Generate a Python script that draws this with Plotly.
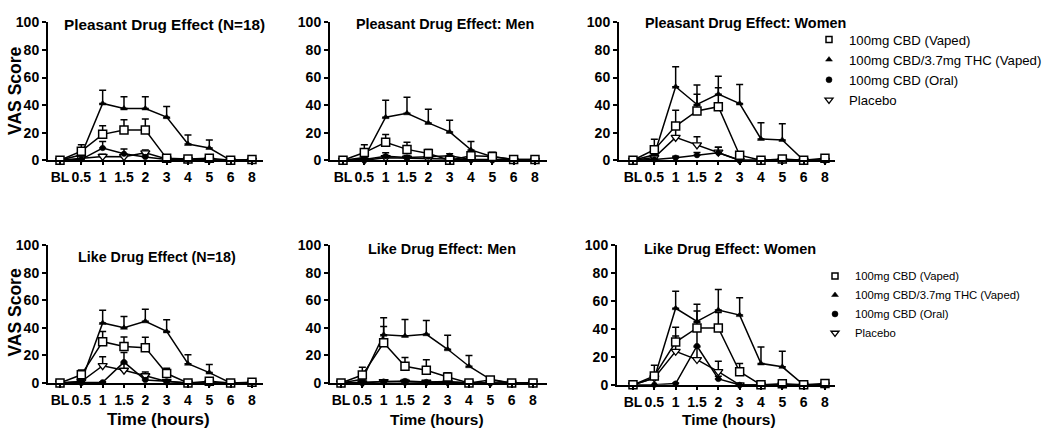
import plotly.graph_objects as go

W, H = 1050, 442

time_labels = ["BL", "0.5", "1", "1.5", "2", "3", "4", "5", "6", "8"]
series_names = ["100mg CBD (Vaped)", "100mg CBD/3.7mg THC (Vaped)", "100mg CBD (Oral)", "Placebo"]
y_ticks = [0, 20, 40, 60, 80, 100]

# ---- Pleasant Drug Effect (N=18)
pl_all_cbd = [0, 6.6, 18.8, 21.9, 21.9, 1.4, 1.0, 1.4, 0, 0.5]
pl_all_cbd_sem = [0, 4.7, 6.2, 7.5, 8.1, 1.0, 0.5, 0.8, 0, 0.4]
pl_all_thc = [0, 4, 41.2, 37.6, 37.6, 31.3, 11.8, 8.9, 0, 0]
pl_all_thc_sem = [0, 2, 9.6, 8.5, 8.5, 7.7, 6.6, 5.9, 0, 0]
pl_all_oral = [0, 0.7, 8.9, 4.7, 2.4, 0.5, 0, 0, 0, 0]
pl_all_oral_sem = [0, 0.5, 4.7, 3.5, 1.5, 0.4, 0, 0, 0, 0]
pl_all_plac = [0, 1.5, 2.8, 2.6, 5.4, 1, 0.5, 0.5, 0, 0]
pl_all_plac_sem = [0, 1, 1.5, 1.5, 2, 0.8, 0.4, 0.4, 0, 0]

# ---- Pleasant Drug Effect: Men
pl_men_cbd = [0, 5.6, 13.1, 7.9, 4.9, 0, 3.3, 2.8, 0.5, 0.5]
pl_men_cbd_sem = [0, 5.6, 5.6, 5.2, 3, 0, 2, 2, 0.3, 0.3]
pl_men_thc = [0, 2, 31.3, 34.1, 27.1, 20.6, 7.5, 2.6, 0.5, 0.5]
pl_men_thc_sem = [0, 1.5, 12.2, 11.7, 10, 8.4, 6.1, 3.2, 0, 0]
pl_men_oral = [0, 0.5, 3, 2, 2.6, 3.3, 0.5, 0, 0, 0]
pl_men_oral_sem = [0, 0.4, 2.4, 1.5, 1.5, 1.5, 0.4, 0, 0, 0]
pl_men_plac = [0, 0, 1.9, 1.5, 1, 0.5, 0.5, 0.5, 0, 0]
pl_men_plac_sem = [0, 0, 1.5, 1, 1, 0.4, 0, 0, 0, 0]

# ---- Pleasant Drug Effect: Women
pl_wom_cbd = [0, 7.7, 24.8, 35.8, 38.9, 3.7, 0, 0.9, 0, 1.4]
pl_wom_cbd_sem = [0, 7.5, 11.5, 12.2, 13.8, 2, 0, 0.6, 0, 0.8]
pl_wom_thc = [0, 4, 53.4, 40.5, 48, 41.2, 15.5, 14.8, 0, 0]
pl_wom_thc_sem = [0, 3, 14.5, 14.1, 12.9, 13.8, 11.7, 11.7, 0, 0]
pl_wom_oral = [0, 0.5, 1.9, 3.7, 5.4, 0, 0, 0, 0, 0]
pl_wom_oral_sem = [0, 0.4, 1, 2, 4, 0, 0, 0, 0, 0]
pl_wom_plac = [0, 2, 16.6, 11.2, 5.9, 0, 0, 0, 0, 0]
pl_wom_plac_sem = [0, 1.5, 7.4, 5.9, 3.5, 0, 0, 0, 0, 0]

# ---- Like Drug Effect (N=18)
lk_all_cbd = [0, 5.9, 29.9, 26.4, 25.6, 6.8, 0, 1.2, 0, 0.5]
lk_all_cbd_sem = [0, 3.5, 7.5, 7, 7.6, 3.8, 0, 0.8, 0, 0.3]
lk_all_thc = [0, 1, 43.5, 40, 44.7, 37.4, 13.9, 7.5, 0, 0]
lk_all_thc_sem = [0, 1, 9.2, 8.2, 8.7, 8.5, 6.6, 5.9, 0, 0]
lk_all_oral = [0, 0, 0.5, 15.1, 2.1, 1.2, 0, 0, 0, 0]
lk_all_oral_sem = [0, 0, 0.3, 6.9, 1.5, 0.8, 0, 0, 0, 0]
lk_all_plac = [0, 1, 12.5, 9.2, 5.2, 1, 0, 0, 0, 0]
lk_all_plac_sem = [0, 0.8, 6.5, 5, 2.8, 0.8, 0, 0, 0, 0]

# ---- Like Drug Effect: Men
lk_men_cbd = [0, 5.7, 29.1, 12.1, 9.2, 4.3, 0, 2.1, 0, 0]
lk_men_cbd_sem = [0, 5.7, 11.9, 6.4, 7.6, 3, 0, 1.5, 0, 0]
lk_men_thc = [0, 2.6, 35, 34.1, 35.3, 24.4, 12.1, 2.6, 0, 0]
lk_men_thc_sem = [0, 2, 12.2, 11.9, 10, 10.2, 7.8, 1.5, 0, 0]
lk_men_oral = [0, 0.5, 1, 1.4, 0.7, 1, 0, 0, 0, 0]
lk_men_oral_sem = [0, 0.4, 0.8, 1, 0.5, 0.8, 0, 0, 0, 0]
lk_men_plac = [0, 0, 1, 0.5, 0.5, 0.5, 0, 0, 0, 0]
lk_men_plac_sem = [0, 0, 0.6, 0.4, 0.4, 0.4, 0, 0, 0, 0]

# ---- Like Drug Effect: Women
lk_wom_cbd = [0, 6.4, 30.6, 40.7, 40.7, 9.4, 0, 0.7, 0, 0.9]
lk_wom_cbd_sem = [0, 7.7, 10.6, 12.2, 11, 5.9, 0, 0.5, 0, 0.5]
lk_wom_thc = [0, 4.7, 54.8, 45.4, 53.6, 49.9, 15.3, 12.9, 0, 0]
lk_wom_thc_sem = [0, 4, 12.2, 12.2, 14.6, 12.5, 11.7, 11.1, 0, 0]
lk_wom_oral = [0, 0, 0.9, 27.8, 4.2, 0, 0, 0, 0, 0]
lk_wom_oral_sem = [0, 0, 0.5, 11, 2, 0, 0, 0, 0, 0]
lk_wom_plac = [0, 5, 24, 18.1, 9.4, 0, 0, 0, 0, 0]
lk_wom_plac_sem = [0, 2, 11, 9, 7.5, 0, 0, 0, 0, 0]

panel_titles = ["Pleasant Drug Effect (N=18)", "Pleasant Drug Effect: Men", "Pleasant Drug Effect: Women",
                "Like Drug Effect (N=18)", "Like Drug Effect: Men", "Like Drug Effect: Women"]

panels_data = [
    [(pl_all_cbd, pl_all_cbd_sem), (pl_all_thc, pl_all_thc_sem), (pl_all_oral, pl_all_oral_sem), (pl_all_plac, pl_all_plac_sem)],
    [(pl_men_cbd, pl_men_cbd_sem), (pl_men_thc, pl_men_thc_sem), (pl_men_oral, pl_men_oral_sem), (pl_men_plac, pl_men_plac_sem)],
    [(pl_wom_cbd, pl_wom_cbd_sem), (pl_wom_thc, pl_wom_thc_sem), (pl_wom_oral, pl_wom_oral_sem), (pl_wom_plac, pl_wom_plac_sem)],
    [(lk_all_cbd, lk_all_cbd_sem), (lk_all_thc, lk_all_thc_sem), (lk_all_oral, lk_all_oral_sem), (lk_all_plac, lk_all_plac_sem)],
    [(lk_men_cbd, lk_men_cbd_sem), (lk_men_thc, lk_men_thc_sem), (lk_men_oral, lk_men_oral_sem), (lk_men_plac, lk_men_plac_sem)],
    [(lk_wom_cbd, lk_wom_cbd_sem), (lk_wom_thc, lk_wom_thc_sem), (lk_wom_oral, lk_wom_oral_sem), (lk_wom_plac, lk_wom_plac_sem)],
]

FONT = "Arial, 'Liberation Sans', sans-serif"

# pixel geometry: axis_left, BL pixel, axis_right, y of value 0, y of value 100
geom = [
    (48, 60, 263, 158, 15),
    (330, 343, 547, 158, 15),
    (619, 633, 835, 158, 15),
    (48, 60, 263, 389, 246),
    (330, 341, 547, 389, 246),
    (617, 633, 835, 391, 246),
]
STEP = 21.33

# marker styles (plot order: placebo, oral, thc, cbd vaped on top)
styles = [
    dict(symbol="square", size=8, color="white", line=dict(color="black", width=1.5)),
    dict(symbol="triangle-up", size=6, color="black", line=dict(color="black", width=0.5)),
    dict(symbol="circle", size=5.5, color="black", line=dict(color="black", width=0.5)),
    dict(symbol="triangle-down", size=8, color="white", line=dict(color="black", width=1.3)),
]
legend_styles = [
    dict(symbol="square", size=6, color="white", line=dict(color="black", width=1.5)),
    dict(symbol="triangle-up", size=6, color="black", line=dict(color="black", width=0.5)),
    dict(symbol="circle", size=6, color="black", line=dict(color="black", width=0.5)),
    dict(symbol="triangle-down", size=7, color="white", line=dict(color="black", width=1.3)),
]
draw_order = [3, 2, 1, 0]

fig = go.Figure()
x_idx = list(range(len(time_labels)))

layout_axes = {}
for p, (ax_l, bl, ax_r, y0, y100) in enumerate(geom):
    n = p + 1
    xa = "x" if n == 1 else f"x{n}"
    ya = "y" if n == 1 else f"y{n}"
    xr0 = -(bl - ax_l) / STEP
    xr1 = xr0 + (ax_r - ax_l) / STEP
    layout_axes[("xaxis" if n == 1 else f"xaxis{n}")] = dict(
        domain=[ax_l / W, ax_r / W], range=[xr0, xr1], anchor=ya,
        tickvals=x_idx, ticktext=time_labels, tickangle=0, showline=True, linecolor="black", linewidth=2,
        ticks="outside", ticklen=3, tickwidth=1.5, tickcolor="black", showgrid=False, zeroline=False,
        tickfont=dict(family=FONT, size=14, color="black", weight="bold"), fixedrange=True)
    layout_axes[("yaxis" if n == 1 else f"yaxis{n}")] = dict(
        domain=[(H - y0) / H, (H - y100) / H], range=[0, 100], anchor=xa,
        tickvals=y_ticks, showline=True, linecolor="black", linewidth=2,
        ticks="outside", ticklen=4, tickwidth=2, tickcolor="black", showgrid=False, zeroline=False,
        tickfont=dict(family=FONT, size=14, color="black", weight="bold"), fixedrange=True)
    for s in draw_order:
        vals, sem = panels_data[p][s]
        fig.add_trace(go.Scatter(
            x=x_idx, y=vals, xaxis=xa, yaxis=ya, mode="lines+markers",
            line=dict(color="black", width=1.5), marker=styles[s],
            error_y=dict(type="data", symmetric=False, array=sem, arrayminus=[0] * len(sem),
                         color="black", thickness=1.5, width=3.5),
            cliponaxis=False, showlegend=False, name=series_names[s]))

# legend-only traces
for leg in ["legend", "legend2"]:
    for s in range(4):
        fig.add_trace(go.Scatter(x=[None], y=[None], mode="markers", marker=legend_styles[s], name=series_names[s],
                                 legend=leg, showlegend=True, xaxis="x3", yaxis="y3"))

fig.update_layout(**layout_axes)

ann = []
title_pos = [(164, 17, 15.3), (445, 17, 14.4), (745, 16, 14.4), (157, 258, 14.3), (442, 250, 14.4), (730, 250, 14.5)]
for t, (cx, cy, fs) in zip(panel_titles, title_pos):
    ann.append(dict(text=t, x=cx / W, y=1 - cy / H, xref="paper", yref="paper", showarrow=False,
                    xanchor="center", yanchor="middle", font=dict(family=FONT, size=fs, color="black", weight="bold")))
for cy in [86, 316]:
    ann.append(dict(text="VAS Score", x=15 / W, y=1 - cy / H, xref="paper", yref="paper", showarrow=False,
                    textangle=-90, xanchor="center", yanchor="middle",
                    font=dict(family=FONT, size=17.5, color="black", weight="bold")))
for cx, fs in [(158, 17), (437, 15.5), (729, 15.5)]:
    ann.append(dict(text="Time (hours)", x=cx / W, y=1 - 427 / H, xref="paper", yref="paper", showarrow=False,
                    xanchor="center", yanchor="middle", font=dict(family=FONT, size=fs, color="black", weight="bold")))

fig.update_layout(
    width=W, height=H, margin=dict(l=0, r=0, t=0, b=0),
    paper_bgcolor="white", plot_bgcolor="white",
    annotations=ann,
    legend=dict(x=(829 - 20) / W, y=1 - 17 / H, xanchor="left", yanchor="top", bgcolor="rgba(0,0,0,0)",
                font=dict(family=FONT, size=13.2, color="black"), itemwidth=30, tracegroupgap=0),
    legend2=dict(x=(835 - 20) / W, y=1 - 263 / H, xanchor="left", yanchor="top", bgcolor="rgba(0,0,0,0)",
                 font=dict(family=FONT, size=11.3, color="black"), itemwidth=30, tracegroupgap=0),
)

fig.write_html("out.html", config={"displayModeBar": False},
               post_script="document.body.style.margin='0px';document.body.style.overflow='hidden';")
